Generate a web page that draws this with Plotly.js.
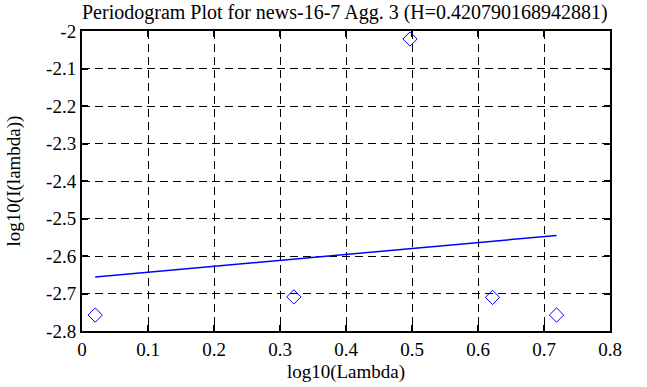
<!DOCTYPE html>
<html>
<head>
<meta charset="utf-8">
<script src="https://cdn.plot.ly/plotly-3.0.1.min.js"></script>
<style>html,body{margin:0;padding:0;background:#fff;}#chart{width:647px;height:387px;}</style>
</head>
<body>
<div id="chart"></div>
<script>
// Periodogram points (log10 frequency vs log10 intensity)
const logLambda = [0.020, 0.321, 0.497, 0.622, 0.719];
const logI = [-2.7575, -2.7090, -2.0214, -2.7104, -2.7575];
// Fitted regression line endpoints
const fitX = [0.020, 0.719];
const fitY = [-2.656, -2.5453];
// Tick labels
const xTickVals = [0, 0.1, 0.2, 0.3, 0.4, 0.5, 0.6, 0.7, 0.8];
const xTickText = ["0", "0.1", "0.2", "0.3", "0.4", "0.5", "0.6", "0.7", "0.8"];
const yTickVals = [-2, -2.1, -2.2, -2.3, -2.4, -2.5, -2.6, -2.7, -2.8];
const yTickText = ["-2", "-2.1", "-2.2", "-2.3", "-2.4", "-2.5", "-2.6", "-2.7", "-2.8"];

const font = "'Liberation Serif', 'Times New Roman', serif";
const data = [
  {x: logLambda, y: logI, type: "scatter", mode: "markers",
   marker: {symbol: "diamond-open", size: 11, color: "#0000ff", line: {width: 1, color: "#0000ff"}},
   cliponaxis: false, hoverinfo: "skip"},
  {x: fitX, y: fitY, type: "scatter", mode: "lines",
   line: {color: "#0000ff", width: 1.5}, hoverinfo: "skip"}
];
function axisCommon() {
  return {
    showline: true, linecolor: "#000", linewidth: 2, mirror: "ticks",
    ticks: "inside", ticklen: 6, tickwidth: 2, tickcolor: "#000",
    showgrid: true, gridcolor: "#000", gridwidth: 1, griddash: "8px,5px",
    zeroline: false, tickfont: {family: font, size: 19, color: "#000"}
  };
}
const layout = {
  width: 647, height: 387,
  margin: {l: 82, r: 37, t: 31, b: 56},
  paper_bgcolor: "#fff", plot_bgcolor: "#fff",
  font: {family: font, color: "#000"},
  showlegend: false,
  title: {text: "Periodogram Plot for news-16-7 Agg. 3 (H=0.420790168942881)",
          font: {family: font, size: 20, color: "#000"}, x: 0.533, xanchor: "center", y: 0.97, yanchor: "middle"},
  xaxis: Object.assign(axisCommon(), {range: [0, 0.8], tickvals: xTickVals, ticktext: xTickText,
          title: {text: "log10(Lambda)", font: {family: font, size: 19, color: "#000"}, standoff: 6}}),
  yaxis: Object.assign(axisCommon(), {range: [-2.8, -2], tickvals: yTickVals, ticktext: yTickText,
          title: {text: "log10(I(lambda))", font: {family: font, size: 19, color: "#000"}, standoff: 20}})
};
Plotly.newPlot("chart", data, layout, {displayModeBar: false, staticPlot: true});
</script>
</body>
</html>
